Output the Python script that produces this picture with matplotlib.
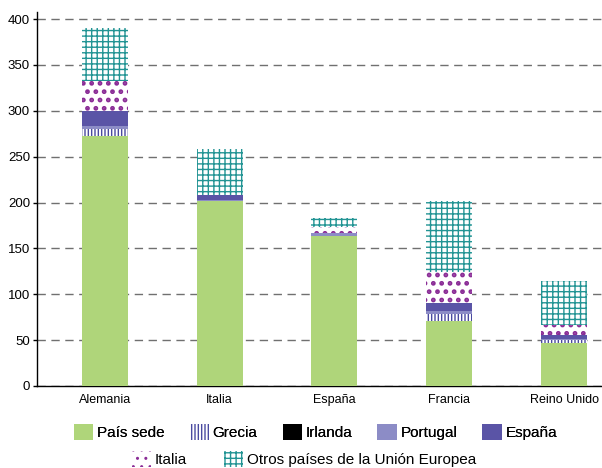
import matplotlib
matplotlib.use("Agg")
import matplotlib.pyplot as plt
import numpy as np
from matplotlib.patches import Patch

plt.rcParams['font.family'] = ['Liberation Sans', 'DejaVu Sans']

categories = ["Alemania", "Italia", "España", "Francia", "Reino Unido"]
series_names = ["País sede", "Grecia", "Irlanda", "Portugal", "España", "Italia",
                "Otros países de la Unión Europea"]
pais_sede = [273, 202, 163, 71, 47]
grecia = [7, 0, 0, 7, 3]
irlanda = [0, 0, 0, 1, 0]
portugal = [3, 1, 4, 3, 1]
espana = [17, 5, 0, 9, 5]
italia = [32, 0, 6, 33, 11]
otros = [58, 50, 10, 78, 47]
yticks = [0, 50, 100, 150, 200, 250, 300, 350, 400]

series = [pais_sede, grecia, irlanda, portugal, espana, italia, otros]
styles = [
    dict(facecolor="#afd57a", edgecolor="#afd57a", hatch=None),
    dict(facecolor="white", edgecolor="#4a4aa0", hatch="|||||"),
    dict(facecolor="black", edgecolor="black", hatch=None),
    dict(facecolor="#8c8cc6", edgecolor="#8c8cc6", hatch=None),
    dict(facecolor="#5a54a6", edgecolor="#5a54a6", hatch=None),
    dict(facecolor="white", edgecolor="#8a2c96", hatch=".."),
    dict(facecolor="white", edgecolor="#229494", hatch="+++"),
]
hatch_lw = [1.0, 1.0, 1.0, 1.0, 1.0, 2.2, 1.0]

fig = plt.figure(figsize=(6.02, 4.68), dpi=100)
ax = fig.add_axes([37/602, 82/468, 1 - 37/602, (386-11.7)/468])

x = np.arange(len(categories))
bottom = np.zeros(len(categories))
width = 0.40
for vals, st, hl in zip(series, styles, hatch_lw):
    vals = np.array(vals, dtype=float)
    with plt.rc_context({'hatch.linewidth': hl}):
        ax.bar(x, vals, width, bottom=bottom, facecolor=st["facecolor"],
               edgecolor=st["edgecolor"], hatch=st["hatch"], linewidth=0, zorder=3)
    bottom += vals

ax.set_xlim(-0.59, 4.33)
ax.set_ylim(0, 408)
ax.set_yticks(yticks)
ax.set_xticks(x)
ax.set_xticklabels(categories, fontsize=9)
ax.tick_params(axis='y', labelsize=9.5, length=3, width=1, pad=2)
ax.tick_params(axis='x', length=0, pad=6)
ax.yaxis.grid(True, linestyle=(0, (6, 4)), color="#707070", linewidth=1.0, zorder=0)
ax.set_axisbelow(True)
for s in ['top', 'right']:
    ax.spines[s].set_visible(False)
ax.spines['left'].set_linewidth(1.0)
ax.spines['bottom'].set_linewidth(1.0)

handles = []
for name, st, hl in zip(series_names, styles, hatch_lw):
    with plt.rc_context({'hatch.linewidth': hl}):
        handles.append(Patch(facecolor=st["facecolor"], edgecolor=st["edgecolor"],
                             hatch=st["hatch"], linewidth=0, label=name))

leg1 = fig.legend(handles[:5], series_names[:5], loc='center', bbox_to_anchor=(0.524, 1 - 432/468),
                  ncol=5, frameon=False, fontsize=11, handlelength=1.25, handleheight=1.25,
                  handletextpad=0.25, columnspacing=1.65, borderaxespad=0)
leg2 = fig.legend(handles[5:], series_names[5:], loc='center', bbox_to_anchor=(0.505, 1 - 459/468),
                  ncol=2, frameon=False, fontsize=11, handlelength=1.25, handleheight=1.25,
                  handletextpad=0.25, columnspacing=2.4, borderaxespad=0)
fig.add_artist(leg1)

fig.savefig("out.png", dpi=100)
